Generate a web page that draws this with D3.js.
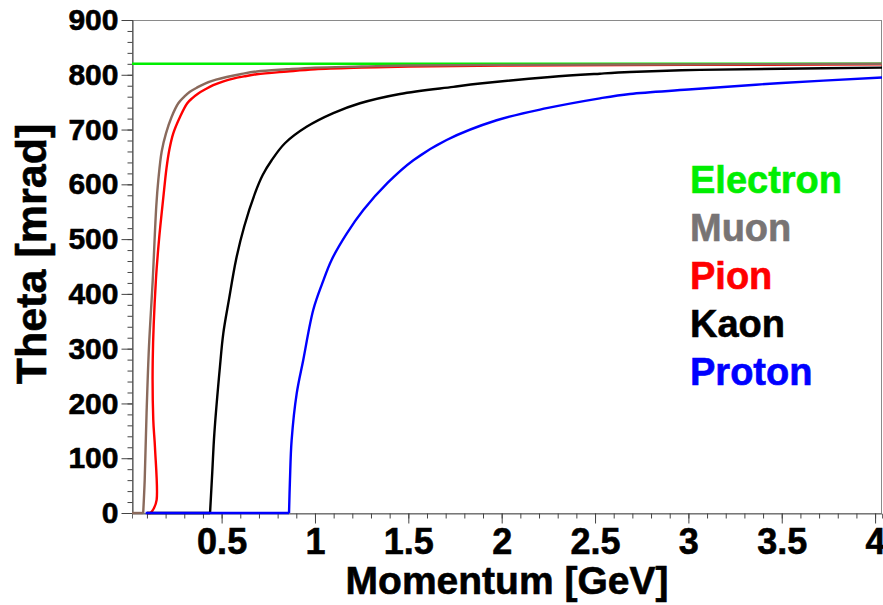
<!DOCTYPE html>
<html>
<head>
<meta charset="utf-8">
<script src="https://cdn.jsdelivr.net/npm/d3@7"></script>
<style>
  body { margin: 0; background: #fff; }
  text { font-family: "Liberation Sans", Arial, sans-serif; font-weight: bold; }
</style>
</head>
<body>
<svg id="chart" width="883" height="605"></svg>
<script>
/* Cherenkov angle vs momentum */

const WIDTH = 883;
const HEIGHT = 605;
const PLOT = {left: 132, right: 882, top: 20, bottom: 513};

const X_DOMAIN = [0.02, 4.037];
const Y_DOMAIN = [0, 900];

const xTickLabels = ["0.5", "1", "1.5", "2", "2.5", "3", "3.5", "4"];
const yTickLabels = ["0", "100", "200", "300", "400", "500", "600", "700", "800", "900"];

// momentum [GeV] / theta [mrad] pairs for each particle
const electronP     = [0.02, 4.04];
const electronTheta = [820, 820];

const muonP     = [0.02, 0.080, 0.088, 0.098, 0.111, 0.131, 0.150, 0.161, 0.179, 0.202, 0.232, 0.268, 0.300, 0.330, 0.370, 0.411, 0.470, 0.527, 0.600, 0.688, 0.85, 1.0, 1.25, 1.5, 2.0, 3.0, 4.04];
const muonTheta = [0, 0, 60, 182, 304, 425, 560, 608, 660, 693, 723, 748, 760, 769, 777, 784, 791, 796, 801, 806, 810, 813, 815, 817, 818, 819, 820];

const pionP     = [0.10, 0.120, 0.138, 0.152, 0.143, 0.134, 0.131, 0.148, 0.165, 0.179, 0.192, 0.205, 0.220, 0.241, 0.277, 0.316, 0.345, 0.375, 0.415, 0.455, 0.510, 0.562, 0.620, 0.688, 0.85, 1.0, 1.25, 1.5, 2.0, 3.0, 4.04];
const pionTheta = [0, 0, 9, 24, 120, 170, 279, 425, 500, 548, 590, 630, 663, 693, 723, 748, 758, 766, 774, 781, 788, 793, 797, 801, 806, 810, 813, 815, 817, 818, 819];

const kaonP     = [0.10, 0.438, 0.450, 0.461, 0.491, 0.509, 0.539, 0.577, 0.621, 0.679, 0.720, 0.768, 0.839, 0.955, 1.098, 1.241, 1.455, 1.741, 1.884, 2.26, 2.526, 2.687, 3.06, 3.5, 4.04];
const kaonTheta = [0, 0, 75, 145, 267, 328, 389, 462, 523, 584, 617, 644, 675, 705, 730, 748, 765, 778, 784, 796, 802, 805, 809, 811, 813];

const protonP     = [0.093, 0.861, 0.866, 0.875, 0.902, 0.937, 0.991, 1.040, 1.089, 1.170, 1.259, 1.390, 1.527, 1.705, 1.973, 2.241, 2.526, 2.687, 3.0, 3.5, 4.04];
const protonTheta = [0, 0, 60, 133, 218, 279, 371, 420, 462, 510, 553, 603, 644, 681, 717, 739, 757, 765, 773, 785, 795];

const names      = ["Electron", "Pion", "Muon", "Kaon", "Proton"];
const lineColors = ["#00ee00", "#ff0000", "#8a6a5c", "#000000", "#0000ff"];
const legendNames  = ["Electron", "Muon", "Pion", "Kaon", "Proton"];
const legendColors = ["#00ee00", "#787474", "#ff0000", "#000000", "#0000ff"];

const series = [
  [electronP, electronTheta],
  [pionP, pionTheta],
  [muonP, muonTheta],
  [kaonP, kaonTheta],
  [protonP, protonTheta]
].map((s, i) => {
  let pts = s[0].map((p, j) => [p, s[1][j]]);
  // last point still at zero = threshold, flat part drawn straight, rest smooth
  let k = 0;
  while (k + 1 < pts.length && pts[k + 1][1] === 0) k++;
  return {name: names[i], color: lineColors[i], flat: pts.slice(0, k + 1), rise: pts.slice(k)};
});

const svg = d3.select("#chart");

const x = d3.scaleLinear().domain(X_DOMAIN).range([PLOT.left, PLOT.right]);
const y = d3.scaleLinear().domain(Y_DOMAIN).range([PLOT.bottom, PLOT.top]);

svg.append("defs").append("clipPath").attr("id", "clip")
  .append("rect")
  .attr("x", PLOT.left).attr("y", PLOT.top)
  .attr("width", PLOT.right - PLOT.left).attr("height", PLOT.bottom - PLOT.top + 3);

// frame
svg.append("rect")
  .attr("x", PLOT.left + 0.5).attr("y", PLOT.top + 0.5)
  .attr("width", PLOT.right - PLOT.left - 1).attr("height", PLOT.bottom - PLOT.top)
  .attr("fill", "none").attr("stroke", "#8a8a8a").attr("stroke-width", 1);

// heavier look for the bold labels
const styleText = (sel, size) => sel
  .attr("fill", "#000")
  .attr("stroke", "#000")
  .attr("stroke-width", 0.6)
  .style("font-size", size)
  .style("font-family", "'Liberation Sans', Arial, sans-serif")
  .style("font-weight", "bold");

// x axis: minor then major ticks
const xMinor = d3.range(1, 41).map(d => d / 10);
const xMajor = xTickLabels.map(Number);

svg.append("g")
  .attr("transform", `translate(0,${PLOT.bottom + 0.5})`)
  .call(d3.axisBottom(x).tickValues(xMinor).tickSize(5).tickFormat(""))
  .call(g => g.select(".domain").attr("stroke", "#666"))
  .call(g => g.selectAll(".tick line").attr("stroke", "#444"));

svg.append("g")
  .attr("transform", `translate(0,${PLOT.bottom + 0.5})`)
  .call(d3.axisBottom(x).tickValues(xMajor).tickSize(10).tickPadding(5).tickFormat((d, i) => xTickLabels[i]))
  .call(g => g.select(".domain").remove())
  .call(g => g.selectAll(".tick line").attr("stroke", "#444"))
  .call(g => styleText(g.selectAll(".tick text"), "36px"));

// y axis
const yMinor = d3.range(0, 901, 20);
const yMajor = yTickLabels.map(Number);

svg.append("g")
  .attr("transform", `translate(${PLOT.left + 0.5},0)`)
  .call(d3.axisLeft(y).tickValues(yMinor).tickSize(5).tickFormat(""))
  .call(g => g.select(".domain").attr("stroke", "#444"))
  .call(g => g.selectAll(".tick line").attr("stroke", "#444"));

svg.append("g")
  .attr("transform", `translate(${PLOT.left + 0.5},0)`)
  .call(d3.axisLeft(y).tickValues(yMajor).tickSize(11).tickPadding(3).tickFormat((d, i) => yTickLabels[i]))
  .call(g => g.select(".domain").remove())
  .call(g => g.selectAll(".tick line").attr("stroke", "#444"))
  .call(g => styleText(g.selectAll(".tick text"), "30px"));

// curves
const flatLine = d3.line().x(d => x(d[0])).y(d => y(d[1]));
const riseLine = d3.line()
  .curve(d3.curveCatmullRom.alpha(0.5))
  .x(d => x(d[0]))
  .y(d => y(d[1]));

const curves = svg.append("g").attr("clip-path", "url(#clip)")
  .selectAll("g")
  .data(series)
  .enter()
  .append("g")
  .attr("fill", "none")
  .attr("stroke", d => d.color)
  .attr("stroke-width", 2.4)
  .attr("stroke-linejoin", "round");

curves.append("path").attr("d", d => flatLine(d.flat));
curves.append("path").attr("d", d => riseLine(d.rise));

// legend
svg.append("g")
  .selectAll("text")
  .data(legendNames)
  .enter()
  .append("text")
  .attr("x", 690)
  .attr("y", (d, i) => 193 + i * 48)
  .attr("fill", (d, i) => legendColors[i])
  .attr("stroke", (d, i) => legendColors[i])
  .attr("stroke-width", 0.6)
  .style("font-size", "38px")
  .text(d => d);

// axis titles
svg.append("text")
  .attr("x", 507)
  .attr("y", 594)
  .attr("text-anchor", "middle")
  .attr("stroke", "#000")
  .attr("stroke-width", 0.6)
  .style("font-size", "39px")
  .text("Momentum [GeV]");

svg.append("text")
  .attr("transform", "translate(46,254) rotate(-90)")
  .attr("text-anchor", "middle")
  .attr("stroke", "#000")
  .attr("stroke-width", 0.6)
  .style("font-size", "43px")
  .text("Theta [mrad]");
</script>
</body>
</html>
